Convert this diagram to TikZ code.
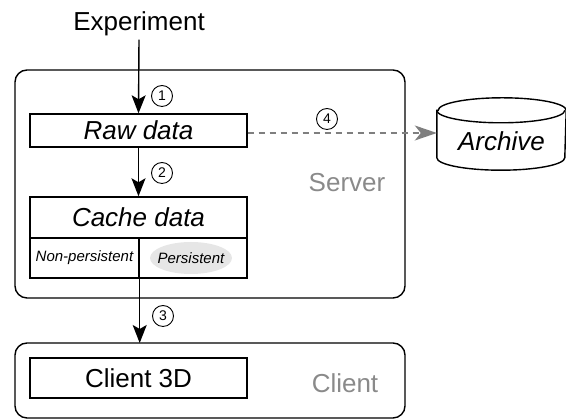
\documentclass[tikz,border=0pt]{standalone}
\usepackage{fontspec}
\setmainfont{Liberation Sans}
\usetikzlibrary{arrows.meta}
\definecolor{labelgray}{HTML}{8A8A8A}
\definecolor{linegray}{HTML}{7F7F7F}
\definecolor{pillgray}{HTML}{E6E6E6}
\tikzset{
  box/.style={draw, line width=1.4pt, minimum width=217pt, inner sep=0pt},
  cell/.style={draw, line width=1.4pt, inner sep=0pt, minimum height=40pt},
  region/.style={draw, line width=1.4pt, rounded corners=12pt},
  bigtext/.style={font=\fontsize{26}{30}\selectfont},
  italtext/.style={font=\fontsize{26}{30}\selectfont\itshape},
  smalltext/.style={font=\fontsize{15}{18}\selectfont\itshape},
  regionlabel/.style={font=\fontsize{26}{30}\selectfont, text=labelgray},
  stepnum/.style={draw, circle, line width=0.9pt, minimum size=21pt, inner sep=0pt,
    font=\fontsize{14}{16}\selectfont},
  flow/.style={line width=1.4pt, -{Stealth[length=18pt,width=14pt,inset=4pt]}},
  archiveflow/.style={line width=1.4pt, linegray, dash pattern=on 6pt off 5pt,
    -{Stealth[length=22pt,width=15pt,inset=6pt]}},
}
\begin{document}
\begin{tikzpicture}[x=1pt,y=1pt]
  \useasboundingbox (0,0) rectangle (566,419);

  % server and client regions
  \coordinate (srvSW) at (15,121);
  \coordinate (srvNE) at (405,349);
  \draw[region] (srvSW) rectangle (srvNE);
  \coordinate (cliSW) at (15,1);
  \coordinate (cliNE) at (405,76);
  \draw[region] (cliSW) rectangle (cliNE);
  \node[regionlabel] (serverlabel) at (347,236) {Server};
  \node[regionlabel] (clientlabel) at (345,36) {Client};

  % boxes
  \node[bigtext] (experiment) at (139,395) {Experiment};
  \node[box, minimum height=33pt, italtext] (raw) at (138.5,288.5) {Raw data};
  \node[box, minimum height=41pt, italtext] (cache) at (138.5,201.5) {Cache data};
  \node[cell, minimum width=109pt] (nonpers) at (84.5,161) {};
  \node[cell, minimum width=108pt] (pers) at (193,161) {};
  \node[smalltext] (nonperstext) at (nonpers.center) {Non-persistent};
  \fill[pillgray] (191,161) ellipse [x radius=41pt, y radius=16pt];
  \node[smalltext] (perstext) at (191,161) {Persistent};
  \node[box, minimum height=40pt, bigtext] (client3d) at (138.5,41) {Client 3D};

  % archive cylinder
  \node[minimum width=129pt, minimum height=72pt, inner sep=0pt] (archive) at (501.5,285) {};
  \draw[line width=1.4pt, fill=white]
    ([yshift=-12.5pt]archive.north west) -- ([yshift=12.5pt]archive.south west)
    arc[start angle=180, end angle=360, x radius=64pt, y radius=12.5pt]
    -- ([yshift=-12.5pt]archive.north east)
    arc[start angle=0, end angle=180, x radius=64pt, y radius=12.5pt] -- cycle;
  \draw[line width=1.4pt] ([yshift=-12.5pt]archive.north west)
    arc[start angle=180, end angle=360, x radius=64pt, y radius=12.5pt];
  \node[italtext] (archivetext) at ([yshift=-7pt]archive.center) {Archive};

  % connectors
  \draw[flow] (experiment.south) -- (raw.north);
  \draw[flow] (raw.south) -- (cache.north);
  \draw[flow] (nonpers.south east) -- (nonpers.south east |- cliNE);
  \draw[archiveflow] (raw.east |- 0,286) -- (archive.west |- 0,286);

  % step numbers
  \node[stepnum] (s1) at (162,323) {1};
  \node[stepnum] (s2) at (162,246) {2};
  \node[stepnum] (s3) at (163,103) {3};
  \node[stepnum] (s4) at (327,300) {4};
\end{tikzpicture}
\end{document}
